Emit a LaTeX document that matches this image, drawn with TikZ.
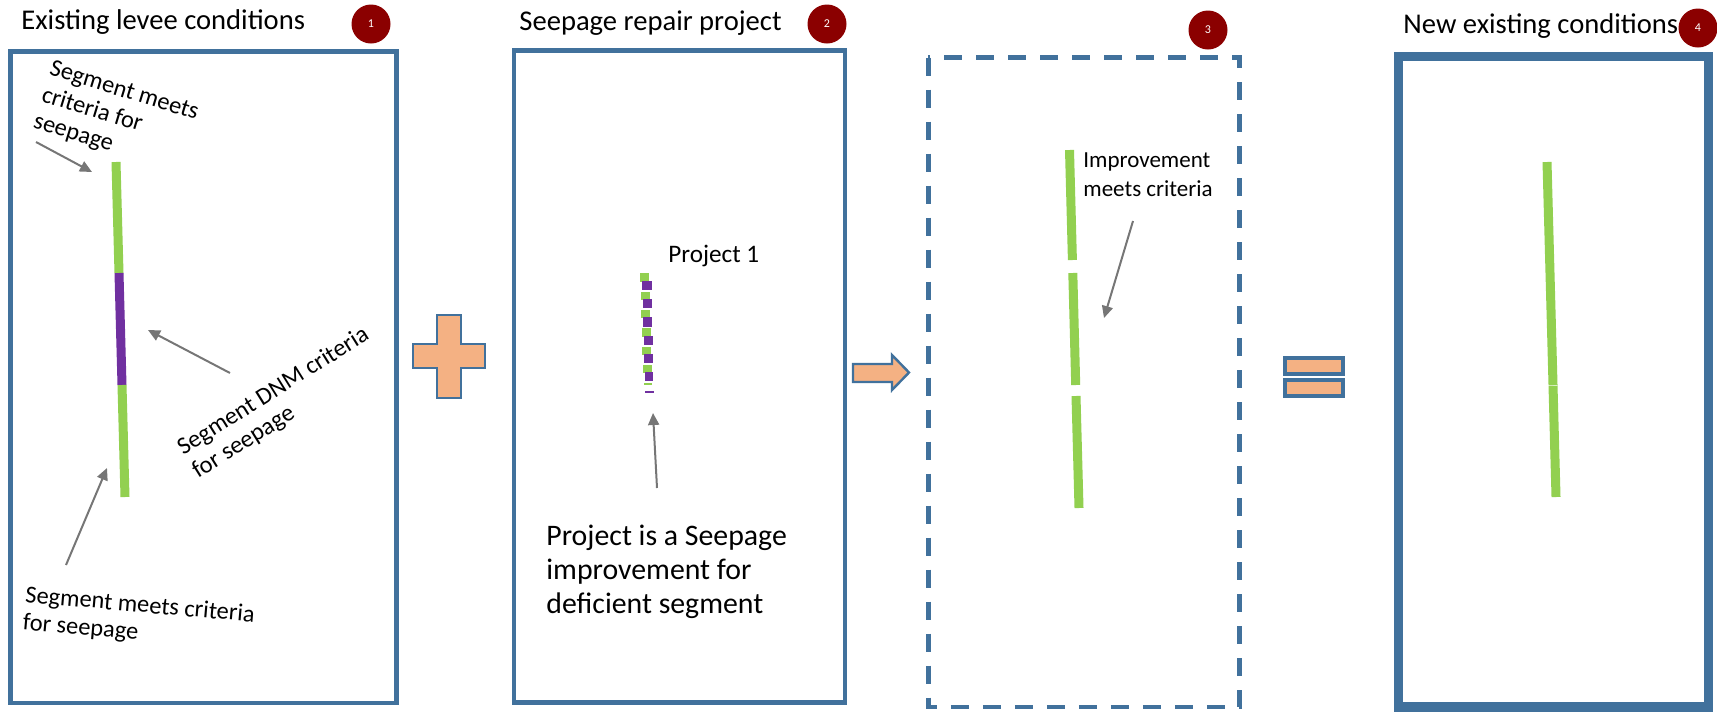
\documentclass[tikz,border=0pt]{standalone}
\usepackage{fontspec}
\setmainfont{Carlito}
\usetikzlibrary{arrows.meta}
\definecolor{boxblue}{RGB}{65,113,156}
\definecolor{lgreen}{RGB}{146,208,80}
\definecolor{vpurple}{RGB}{112,48,160}
\definecolor{shapeorange}{RGB}{244,177,131}
\definecolor{badgered}{RGB}{139,0,0}
\definecolor{ptrgray}{RGB}{118,118,118}
\begin{document}
\begin{tikzpicture}[x=0.5pt,y=-0.5pt,
  panel/.style={draw=boxblue,line width=2.25pt},
  ttl/.style={font=\fontsize{14.3pt}{17pt}\selectfont,anchor=base west,inner sep=0pt},
  badge/.style={circle,fill=badgered,minimum size=19.5pt,inner sep=0pt,text=white,font=\fontsize{6pt}{7pt}\selectfont},
  seg/.style={line width=4.5pt},
  ptr/.style={draw=ptrgray,line width=1pt,-{Triangle[length=6pt,width=5.5pt]}},
  note/.style={inner sep=0pt,align=left,anchor=north west},
  small/.style={font=\fontsize{12.2pt}{13.8pt}\selectfont},
  sym/.style={fill=shapeorange,draw=boxblue,line width=1.2pt}
]
\useasboundingbox (0,0) rectangle (1717,713);

% panels
\draw[panel] (10.5,51.3) rectangle (396.3,703);
\draw[panel] (514,50.5) rectangle (845,702.5);
\draw[panel,dash pattern=on 9pt off 7pt] (928.3,57.5) rectangle (1239.5,707);
\draw[panel,line width=4.75pt] (1398.5,56.7) rectangle (1708.7,707);

% titles
\node[ttl] (t1) at (21,29) {Existing levee conditions};
\node[ttl] (t2) at (519,30) {Seepage repair project};
\node[ttl] (t4) at (1403,33) {New existing conditions};

% badges
\node[badge] (b1) at (371,24) {1};
\node[badge] (b2) at (827,24) {2};
\node[badge] (b3) at (1208,30) {3};
\node[badge] (b4) at (1698,28) {4};

% panel 1 segments
\draw[seg,lgreen] (116,162) -- (119,273);
\draw[seg,vpurple] (119,273) -- (122,385);
\draw[seg,lgreen] (122,385) -- (125,497);

\node[note,small,rotate=-17] (n1) at (53,59) {Segment meets\\criteria for\\seepage};
\node[note,small,rotate=32] (n2) at (174,441) {Segment DNM criteria\\for seepage};
\node[note,small,rotate=-5] (n3) at (26,585) {Segment meets criteria\\for seepage};

\coordinate (p1s) at (36,142); \coordinate (p1e) at (92,172);
\coordinate (p2s) at (230,373); \coordinate (p2e) at (148,330);
\coordinate (p3s) at (66,565); \coordinate (p3e) at (107,468);
\draw[ptr] (p1s) -- (p1e);
\draw[ptr] (p2s) -- (p2e);
\draw[ptr] (p3s) -- (p3e);

% panel 2
\node[ttl,font=\fontsize{12.6pt}{15pt}\selectfont] (proj) at (668,262) {Project 1};
\fill[lgreen] (640,273.3) rectangle (649.3,281.7);
\fill[vpurple] (642.3,281) rectangle (651.7,290);
\fill[lgreen] (640.5,291.7) rectangle (649.7,300);
\fill[vpurple] (642.7,299) rectangle (652,308.3);
\fill[lgreen] (641,310) rectangle (650.3,318.3);
\fill[vpurple] (643.3,317.3) rectangle (652.3,326.7);
\fill[lgreen] (641.7,328.3) rectangle (650.7,336.7);
\fill[vpurple] (643.7,335.7) rectangle (652.7,345);
\fill[lgreen] (642.3,346.7) rectangle (651.3,355);
\fill[vpurple] (644.3,354) rectangle (653,363.3);
\fill[lgreen] (643,365) rectangle (651.7,373.3);
\fill[vpurple] (645,371.7) rectangle (653.3,381);
\fill[lgreen] (643.5,382.7) rectangle (652,385);
\fill[vpurple] (645,390.7) rectangle (654,392.7);
\coordinate (p4s) at (657,488); \coordinate (p4e) at (653,413);
\draw[ptr] (p4s) -- (p4e);
\node[note,font=\fontsize{14.9pt}{17pt}\selectfont] (n4) at (546,525) {Project is a Seepage\\improvement for\\deficient segment};

% operators
\draw[sym] (437,315) -- (461,315) -- (461,344) -- (485,344) -- (485,368) -- (461,368) -- (461,398) -- (437,398) -- (437,368) -- (413,368) -- (413,344) -- (437,344) -- cycle;
\draw[sym] (853,364) -- (892,364) -- (892,355) -- (909,372.5) -- (892,390) -- (892,382) -- (853,382) -- cycle;
\draw[sym,line width=1.6pt] (1285,358) rectangle (1343,374);
\draw[sym,line width=1.6pt] (1285,380) rectangle (1343,396);

% panel 3
\draw[seg,lgreen] (1069.5,150) -- (1072.4,260);
\draw[seg,lgreen] (1072.8,273) -- (1075.7,385);
\draw[seg,lgreen] (1076,396) -- (1079,508);
\node[note,font=\fontsize{11.5pt}{14.5pt}\selectfont] (n5) at (1083,152) {Improvement\\meets criteria};
\coordinate (p5s) at (1133,221); \coordinate (p5e) at (1104,318);
\draw[ptr] (p5s) -- (p5e);

% panel 4
\draw[seg,lgreen] (1547,162) -- (1553,385);
\draw[seg,lgreen] (1553,385.6) -- (1556,497);
\end{tikzpicture}
\end{document}
